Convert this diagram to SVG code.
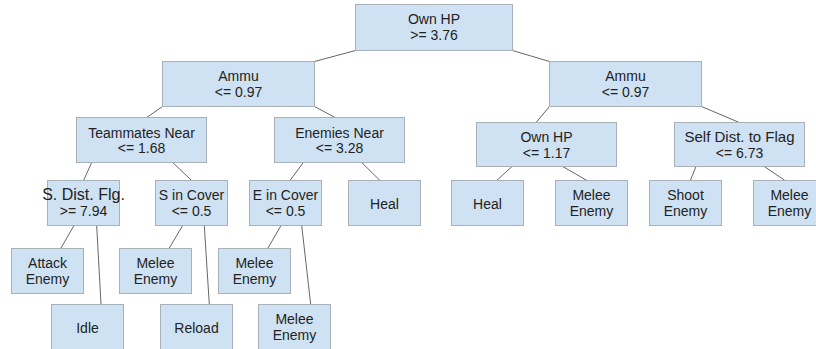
<svg xmlns="http://www.w3.org/2000/svg" width="816" height="349" viewBox="0 0 816 349">
<style>
.box{fill:#cfe2f3;stroke:#a9b1b8;stroke-width:1}
.t{font-family:"Liberation Sans",Arial,sans-serif;font-size:14px;fill:#222;text-anchor:middle}
.c line{stroke:#666;stroke-width:1}
</style>
<rect width="816" height="349" fill="#fff"/>
<g class="c" id="connectors">
<line x1="355.5" y1="50.5" x2="314.5" y2="61.5"/>
<line x1="512.5" y1="50.5" x2="549.5" y2="61.5"/>
<line x1="162.5" y1="106.5" x2="146.7" y2="117.5"/>
<line x1="314.5" y1="106.5" x2="335" y2="117.5"/>
<line x1="549.5" y1="106.5" x2="536" y2="122.5"/>
<line x1="701.5" y1="106.5" x2="739.3" y2="122.5"/>
<line x1="91.7" y1="162.5" x2="83.5" y2="180.5"/>
<line x1="172.7" y1="162.5" x2="191.7" y2="180.5"/>
<line x1="303.3" y1="162.5" x2="290" y2="180.5"/>
<line x1="361.7" y1="162.5" x2="380" y2="180.5"/>
<line x1="512" y1="166.5" x2="496.7" y2="180.5"/>
<line x1="562.7" y1="166.5" x2="587" y2="180.5"/>
<line x1="696" y1="166.5" x2="690.3" y2="180.5"/>
<line x1="764.3" y1="166.5" x2="785" y2="180.5"/>
<line x1="74" y1="225.5" x2="60.7" y2="248.5"/>
<line x1="96.7" y1="225.5" x2="101" y2="304.5"/>
<line x1="182.7" y1="225.5" x2="169" y2="248.5"/>
<line x1="204.3" y1="225.5" x2="209.3" y2="304.5"/>
<line x1="281" y1="225.5" x2="267.7" y2="248.5"/>
<line x1="301.7" y1="225.5" x2="310.7" y2="304.5"/>
</g>
<g id="root"><rect class="box" x="355.5" y="4.5" width="157" height="46"/><text class="t" x="434" y="23.5">Own HP</text><text class="t" x="434" y="39.5">&gt;= 3.76</text></g>
<g id="ammuL"><rect class="box" x="162.5" y="61.5" width="152" height="45"/><text class="t" x="238.5" y="81">Ammu</text><text class="t" x="238.5" y="97">&lt;= 0.97</text></g>
<g id="ammuR"><rect class="box" x="549.5" y="61.5" width="152" height="45"/><text class="t" x="625.5" y="81">Ammu</text><text class="t" x="625.5" y="97">&lt;= 0.97</text></g>
<g id="teammates"><rect class="box" x="76.5" y="117.5" width="130" height="45"/><text class="t" x="141.5" y="137.5">Teammates Near</text><text class="t" x="141.5" y="153">&lt;= 1.68</text></g>
<g id="enemies"><rect class="box" x="274.5" y="117.5" width="130" height="45"/><text class="t" x="339.5" y="137.5">Enemies Near</text><text class="t" x="339.5" y="153">&lt;= 3.28</text></g>
<g id="ownhp2"><rect class="box" x="476.5" y="122.5" width="140" height="44"/><text class="t" x="546.5" y="142">Own HP</text><text class="t" x="546.5" y="157.5">&lt;= 1.17</text></g>
<g id="selfdist"><rect class="box" x="674.5" y="122.5" width="130" height="44"/><text class="t" x="739.5" y="142" style="font-size:15px">Self Dist. to Flag</text><text class="t" x="739.5" y="157.5">&lt;= 6.73</text></g>
<g id="sdist"><rect class="box" x="47.5" y="180.5" width="72" height="45"/><text class="t" x="83.5" y="200" style="font-size:16px">S. Dist. Flg.</text><text class="t" x="83.5" y="215.5">&gt;= 7.94</text></g>
<g id="sincover"><rect class="box" x="155.5" y="180.5" width="72" height="45"/><text class="t" x="191.5" y="200">S in Cover</text><text class="t" x="191.5" y="215.5">&lt;= 0.5</text></g>
<g id="eincover"><rect class="box" x="249.5" y="180.5" width="72" height="45"/><text class="t" x="285.5" y="200">E in Cover</text><text class="t" x="285.5" y="215.5">&lt;= 0.5</text></g>
<g id="heal1"><rect class="box" x="348.5" y="180.5" width="72" height="45"/><text class="t" x="384.5" y="208.5">Heal</text></g>
<g id="heal2"><rect class="box" x="451.5" y="180.5" width="72" height="45"/><text class="t" x="487.5" y="208.5">Heal</text></g>
<g id="melee1"><rect class="box" x="555.5" y="180.5" width="72" height="45"/><text class="t" x="591.5" y="200">Melee</text><text class="t" x="591.5" y="215.5">Enemy</text></g>
<g id="shoot"><rect class="box" x="649.5" y="180.5" width="72" height="45"/><text class="t" x="685.5" y="200">Shoot</text><text class="t" x="685.5" y="215.5">Enemy</text></g>
<g id="melee2"><rect class="box" x="753.5" y="180.5" width="72" height="45"/><text class="t" x="789.5" y="200">Melee</text><text class="t" x="789.5" y="215.5">Enemy</text></g>
<g id="attack"><rect class="box" x="11.5" y="248.5" width="72" height="45"/><text class="t" x="47.5" y="267.5">Attack</text><text class="t" x="47.5" y="283.5">Enemy</text></g>
<g id="idle"><rect class="box" x="51.5" y="304.5" width="72" height="45"/><text class="t" x="87.5" y="332.5">Idle</text></g>
<g id="meleeA"><rect class="box" x="119.5" y="248.5" width="72" height="45"/><text class="t" x="155.5" y="267.5">Melee</text><text class="t" x="155.5" y="283.5">Enemy</text></g>
<g id="reload"><rect class="box" x="160.5" y="304.5" width="72" height="45"/><text class="t" x="196.5" y="332.5">Reload</text></g>
<g id="meleeB"><rect class="box" x="218.5" y="248.5" width="72" height="45"/><text class="t" x="254.5" y="267.5">Melee</text><text class="t" x="254.5" y="283.5">Enemy</text></g>
<g id="meleeC"><rect class="box" x="258.5" y="304.5" width="72" height="45"/><text class="t" x="294.5" y="323.5">Melee</text><text class="t" x="294.5" y="339.5">Enemy</text></g>
</svg>
